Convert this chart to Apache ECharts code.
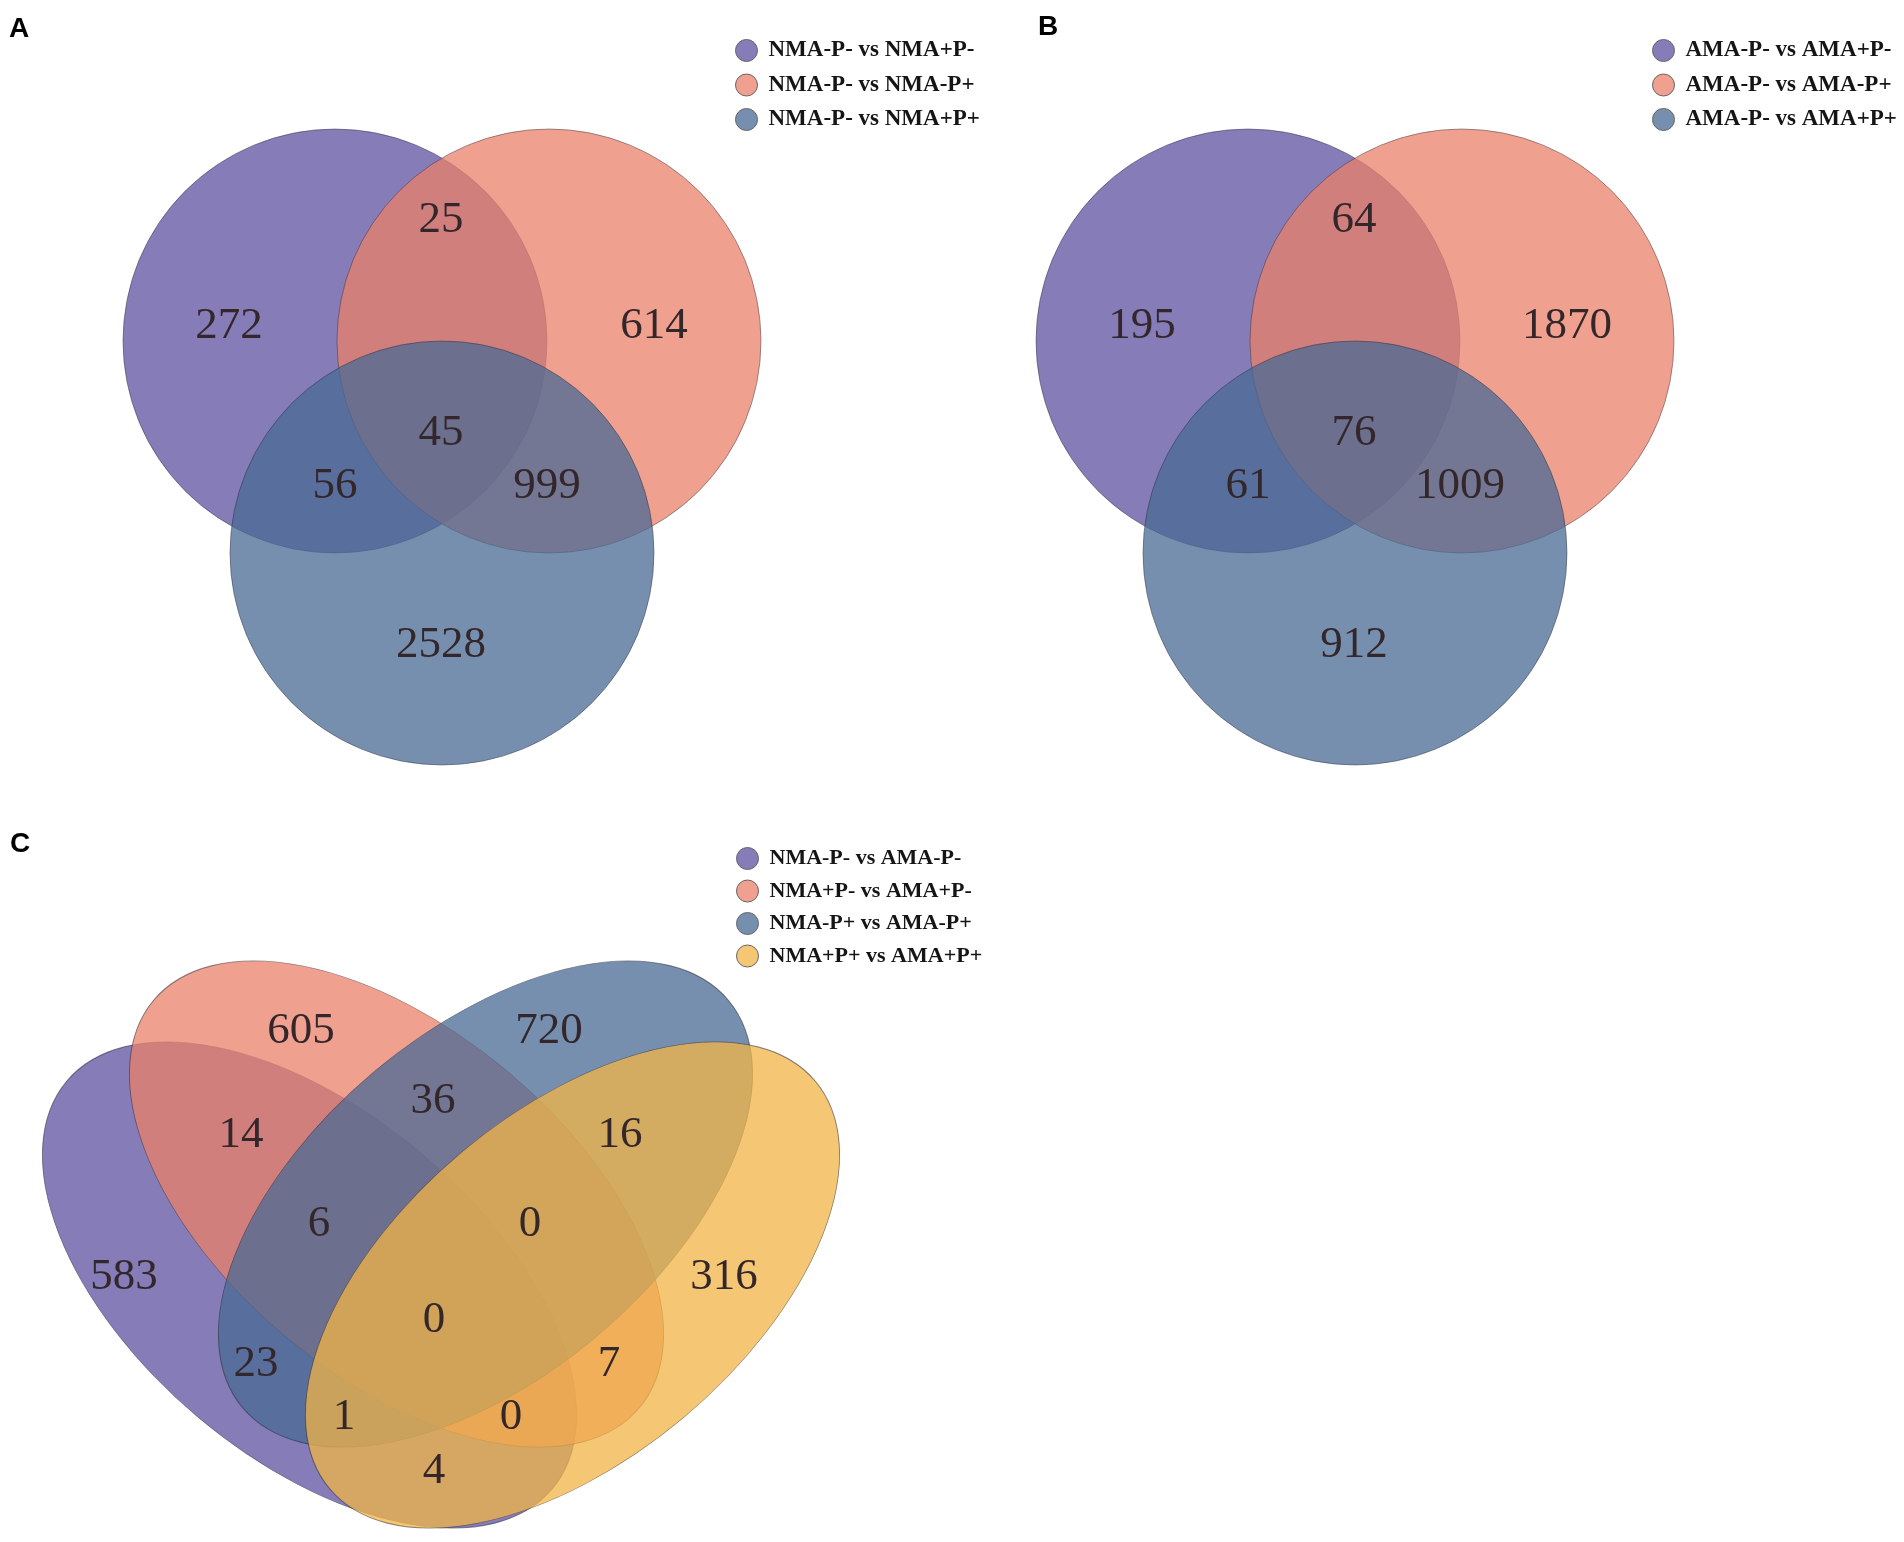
<html>
<head>
    <meta charset="utf-8">
    <title>Venn diagrams</title>
    <style>
        * { margin: 0; padding: 0; }
        #chart-container { width: 100vw; height: 100vh; background: #fff; }
    </style>
</head>
<body>
<div id="chart-container"></div>
<script src="https://cdn.jsdelivr.net/npm/echarts@6/dist/echarts.min.js"></script>
<script>
    // ---- data ----
    const setsA = ['NMA-P- vs NMA+P-', 'NMA-P- vs NMA-P+', 'NMA-P- vs NMA+P+'];
    const setsB = ['AMA-P- vs AMA+P-', 'AMA-P- vs AMA-P+', 'AMA-P- vs AMA+P+'];
    const setsC = ['NMA-P- vs AMA-P-', 'NMA+P- vs AMA+P-', 'NMA-P+ vs AMA-P+', 'NMA+P+ vs AMA+P+'];

    // region order (3 sets): 1 only, 1&2, 2 only, 1&2&3, 1&3, 2&3, 3 only
    const countsA = [272, 25, 614, 45, 56, 999, 2528];
    const countsB = [195, 64, 1870, 76, 61, 1009, 912];
    // region order (4 sets): see venn4Label below
    const countsC = [605, 720, 14, 36, 16, 6, 0, 583, 316, 0, 23, 7, 1, 0, 4];

    // ---- layout (local units, y up) ----
    // [cx, cy, rx, ry, angle]
    const venn3Shape = [[-107, 106, 212, 212, 0], [107, 106, 212, 212, 0], [0, -106, 212, 212, 0]];
    const venn3Label = [[-213, 121], [-1, 227], [212, 121], [-1, 14], [-107, -39], [105, -39], [-1, -198]];
    const venn4Shape = [[-131.5, -35, 317, 173, -40], [-44.5, 46, 317, 173, -40],
                        [44.5, 46, 317, 173, 40], [131.5, -35, 317, 173, 40]];
    const venn4Label = [[-140, 219], [108, 219], [-200, 115], [-8, 149], [179, 115], [-122, 26], [89, 26],
                        [-317, -27], [283, -27], [-7, -70], [-185, -114], [168, -114], [-97, -167], [70, -167], [-7, -221]];

    const setColors = ['rgba(92,80,160,0.75)', 'rgba(235,128,106,0.75)', 'rgba(74,106,148,0.75)', 'rgba(242,180,71,0.75)'];

    const serif = "'Times New Roman', 'Liberation Serif', serif";

    function renderSet(params, api) {
        var c = api.coord([api.value(0), api.value(1)]);
        var rx = api.size([api.value(2), 0])[0];
        var ry = api.size([0, api.value(3)])[1];
        return {
            type: 'circle',
            x: c[0],
            y: c[1],
            rotation: api.value(4) * Math.PI / 180,
            scaleY: ry / rx,
            shape: { cx: 0, cy: 0, r: rx },
            style: { fill: api.visual('color'), stroke: 'rgba(40,40,50,0.55)', lineWidth: 0.8, strokeNoScale: true },
            silent: true
        };
    }

    function renderCount(params, api) {
        var c = api.coord([api.value(0), api.value(1)]);
        return {
            type: 'text',
            x: c[0],
            y: c[1],
            style: {
                text: String(api.value(2)),
                font: '45px ' + serif,
                fill: '#33272b',
                align: 'center',
                verticalAlign: 'middle'
            },
            silent: true
        };
    }

    var series = [];
    function addPanel(names, shapes, labels, counts, gi) {
        names.forEach(function (name, i) {
            series.push({
                type: 'custom',
                name: name,
                xAxisIndex: gi, yAxisIndex: gi,
                coordinateSystem: 'cartesian2d',
                itemStyle: { color: setColors[i] },
                renderItem: renderSet,
                data: [shapes[i]],
                z: 2 + i
            });
        });
        series.push({
            type: 'custom',
            xAxisIndex: gi, yAxisIndex: gi,
            coordinateSystem: 'cartesian2d',
            renderItem: renderCount,
            data: counts.map(function (v, i) { return [labels[i][0], labels[i][1], v]; }),
            z: 10
        });
    }
    addPanel(setsA, venn3Shape, venn3Label, countsA, 0);
    addPanel(setsB, venn3Shape, venn3Label, countsB, 1);
    addPanel(setsC, venn4Shape, venn4Label, countsC, 2);

    function hiddenAxis(min, max, gi) {
        return { type: 'value', show: false, min: min, max: max, gridIndex: gi };
    }

    function legendFor(names, left, top, gap, fontSize) {
        return {
            data: names,
            orient: 'vertical',
            left: left,
            top: top,
            padding: 0,
            icon: 'circle',
            itemWidth: 22,
            itemHeight: 22,
            itemGap: gap,
            selectedMode: false,
            itemStyle: { borderColor: '#666', borderWidth: 1 },
            textStyle: {
                fontFamily: serif,
                fontWeight: 'bold',
                fontSize: fontSize,
                color: '#151515',
                lineHeight: 22,
                padding: [0, 0, 0, 6]
            }
        };
    }

    function panelTitle(text, left, top) {
        return {
            text: text, left: left, top: top, padding: 0,
            textStyle: { fontFamily: "Arial, 'Liberation Sans', sans-serif", fontWeight: 'bold', fontSize: 28, color: '#000' }
        };
    }

    var dom = document.getElementById('chart-container');
    var myChart = echarts.init(dom, null, { renderer: 'canvas' });

    var option = {
        backgroundColor: '#fff',
        animation: false,
        title: [panelTitle('A', 9, 15), panelTitle('B', 1038, 13), panelTitle('C', 10, 830)],
        legend: [
            legendFor(setsA, 735, 39, 11.5, 23),
            legendFor(setsB, 1652, 39, 11.5, 23),
            legendFor(setsC, 736, 847, 9.5, 22)
        ],
        grid: [
            { left: 142, top: 117, width: 600, height: 660 },
            { left: 1055, top: 117, width: 600, height: 660 },
            { left: 21, top: 960, width: 840, height: 580 }
        ],
        xAxis: [hiddenAxis(-300, 300, 0), hiddenAxis(-300, 300, 1), hiddenAxis(-420, 420, 2)],
        yAxis: [hiddenAxis(-330, 330, 0), hiddenAxis(-330, 330, 1), hiddenAxis(-290, 290, 2)],
        series: series
    };

    myChart.setOption(option);
    window.addEventListener('resize', myChart.resize);
</script>
</body>
</html>
